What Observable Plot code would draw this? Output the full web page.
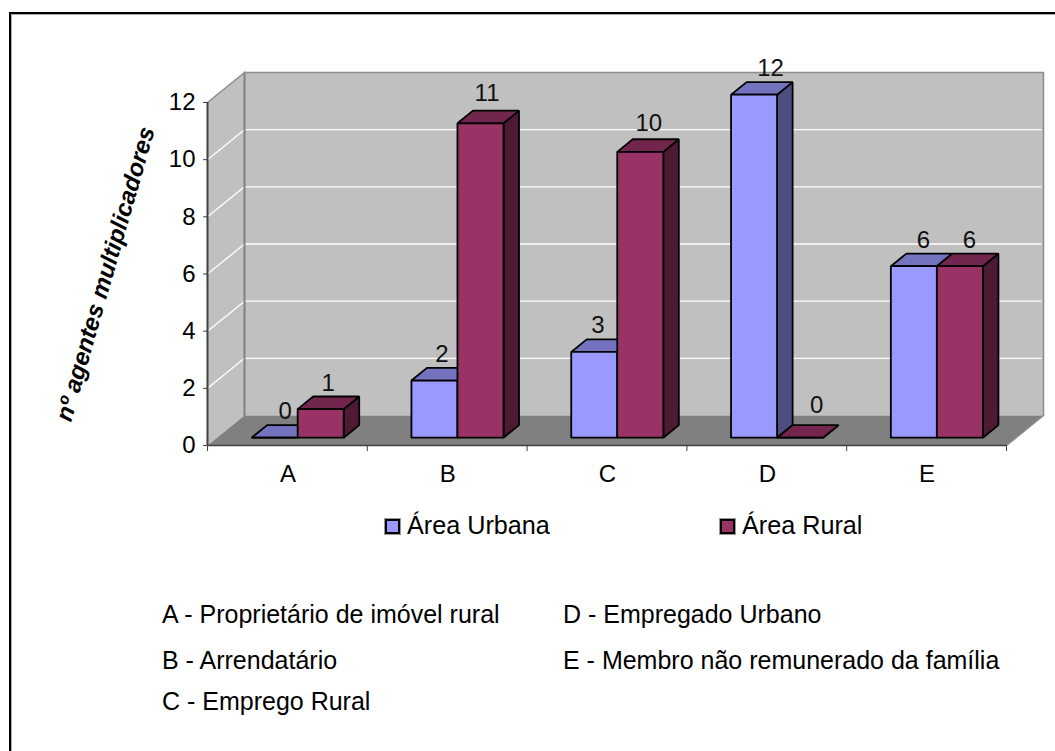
<!DOCTYPE html>
<html lang="pt">
<head>
<meta charset="utf-8">
<title>Agentes multiplicadores</title>
<script src="https://cdn.jsdelivr.net/npm/d3@7"></script>
<script src="https://cdn.jsdelivr.net/npm/@observablehq/plot@0.6"></script>
<style>
  html, body { margin: 0; padding: 0; background: #fff; width: 1055px; height: 751px; overflow: hidden; }
  body { position: relative; font-family: "Liberation Sans", Arial, sans-serif; color: #000; }
  #frame { position: absolute; left: 9px; top: 12px; right: 0; bottom: 0;
           border-top: 2px solid #000; border-left: 2px solid #000; box-shadow: inset 1px 1px 0 #aaa; }
  #chart { position: absolute; left: 0; top: 0; }
  .legend { position: absolute; top: 509px; font-size: 25.2px; line-height: 32px; white-space: nowrap; }
  .legend i { position: absolute; left: -22px; top: 10px; width: 11px; height: 11px; border: 2px solid #000;
              box-shadow: 0 0 0 1px #999; }
  .note { position: absolute; font-size: 25px; line-height: 30px; white-space: nowrap; }
</style>
</head>
<body>
<div id="frame"></div>
<div id="chart"></div>
<div id="legend"></div>
<div id="notes"></div>
<script>
// ---- data ----
const categories = ["A", "B", "C", "D", "E"];
const urbana = [0, 2, 3, 12, 6];
const rural = [1, 11, 10, 0, 6];
const seriesNames = ["Área Urbana", "Área Rural"];
const notes = [
  "A - Proprietário de imóvel rural",
  "B - Arrendatário",
  "C - Emprego Rural",
  "D - Empregado Urbano",
  "E - Membro não remunerado da família"
];
const yTicks = [0, 2, 4, 6, 8, 10, 12];
const xTicks = [0, 1, 2, 3, 4, 5];
const yTitle = "nº agentes multiplicadores";

// ---- palette ----
const urbanaFaces = {front: "#9999ff", top: "#7373bf", side: "#4d4d80"};
const ruralFaces = {front: "#993366", top: "#73264d", side: "#4d1933"};

// ---- oblique projection, expressed in data units ----
const shearX = 0.2315;   // band units per unit of depth
const shearY = 1.05;     // value units per unit of depth
const barWidth = 0.288;
const barNear = 0.26;
const barFar = 0.68;
const barShift = 0.004;
const P = (x, y, d) => ({x: x + d * shearX, y: y + d * shearY});
const poly = (id, fill, pts) => pts.map((p) => ({...p, id, fill}));

const faces = [];
function addBar(id, left, value, c) {
  const r = left + barWidth;
  faces.push(...poly(id + "s", c.side, [P(r, 0, barNear), P(r, 0, barFar), P(r, value, barFar), P(r, value, barNear)]));
  faces.push(...poly(id + "t", c.top, [P(left, value, barNear), P(r, value, barNear), P(r, value, barFar), P(left, value, barFar)]));
  faces.push(...poly(id + "f", c.front, [P(left, 0, barNear), P(r, 0, barNear), P(r, value, barNear), P(left, value, barNear)]));
}
// value-label placement nudges (band units / value units)
const urbanaNudge = [-0.031, -0.05, -0.075, 0.006, -0.038];
const ruralNudge = [-0.05, -0.056, -0.044, 0.006, -0.038];
const ruralLift = [0, 0.14, 0.07, 0.2, 0];
const labels = [];
categories.forEach((cat, i) => {
  const mid = i + 0.5 + barShift;
  addBar("u" + i, mid - barWidth, urbana[i], urbanaFaces);
  addBar("r" + i, mid, rural[i], ruralFaces);
  labels.push({...P(mid - barWidth / 2 + urbanaNudge[i], urbana[i], barFar), v: urbana[i]});
  labels.push({...P(mid + barWidth / 2 + ruralNudge[i], rural[i] + ruralLift[i], barFar), v: rural[i]});
});

const wall = poly("wall", "#c0c0c0", [P(0, 0, 1), P(5, 0, 1), P(5, 12, 1), P(0, 12, 1)]);
const leftWall = poly("left", "#c0c0c0", [P(0, 0, 0), P(0, 0, 1), P(0, 12, 1), P(0, 12, 0)]);
const floor = poly("floor", "#808080", [P(0, 0, 0), P(5, 0, 0), P(5, 0, 1), P(0, 0, 1)]);
const gridTicks = yTicks.filter((t) => t > 0 && t < 12);
const grid = gridTicks.flatMap((t) => [
  {...P(0, t, 0), id: t}, {...P(0, t, 1), id: t}, {...P(4.985, t, 1), id: t}
]);
const wallEdge = [P(0, 12, 0), P(0, 12, 1), P(5, 12, 1), P(5, 0, 1), P(5, 0, 0)];
const wallInner = [P(0, 12, 1), P(0, 0, 1)];

const face = {x: "x", y: "y", z: "id", fill: "fill", curve: "linear-closed"};
const plot = Plot.plot({
  width: 1055, height: 490,
  marginLeft: 207, marginRight: 49, marginTop: 102, marginBottom: 45,
  style: {background: "transparent", fontFamily: "'Liberation Sans', Arial, sans-serif", color: "#000", overflow: "visible"},
  x: {type: "linear", domain: [0, 5], axis: null},
  y: {type: "linear", domain: [0, 12], axis: null},
  color: {type: "identity"},
  marks: [
    Plot.line(wall, {...face, stroke: "none"}),
    Plot.line(leftWall, {...face, stroke: "none"}),
    Plot.line(floor, {...face, stroke: "none"}),
    Plot.line(grid, {x: "x", y: "y", z: "id", stroke: "#fff", strokeWidth: 1.3}),
    Plot.line(wallInner, {x: "x", y: "y", stroke: "#808080", strokeWidth: 2}),
    Plot.line(wallEdge, {x: "x", y: "y", stroke: "#8c8c8c", strokeWidth: 1.5}),
    Plot.line(faces, {...face, stroke: "#000", strokeWidth: 1.8, strokeLinejoin: "miter"}),
    Plot.text(labels, {x: "x", y: "y", text: (d) => String(d.v), dy: -6, lineAnchor: "bottom", fontSize: 24, fill: "#111"}),
    Plot.ruleX([0], {y1: 0, y2: 12, stroke: "#404040", strokeWidth: 2}),
    Plot.ruleY([0], {x1: 0, x2: 5, stroke: "#404040", strokeWidth: 1.6}),
    Plot.axisY({ticks: yTicks, tickSize: 4, tickPadding: 8, fontSize: 24, label: null, stroke: "#404040", fill: "#000", tickFormat: (d) => String(d)}),
    Plot.axisX({ticks: xTicks, tickSize: 6, tickFormat: () => "", label: null, stroke: "#404040"}),
    Plot.text(categories, {x: (d, i) => i + 0.5, y: 0, text: (d) => d, dx: 0.5, dy: 36, lineAnchor: "bottom", fontSize: 24, fill: "#000"}),
    Plot.text([yTitle], {frameAnchor: "left", textAnchor: "middle", dx: -102, dy: 0, rotate: -74, fontSize: 24, fontWeight: "bold", fontStyle: "italic", fill: "#000"})
  ]
});
document.getElementById("chart").append(plot);

// ---- legend and category notes below the plot ----
const legend = document.getElementById("legend");
[[407, urbanaFaces.front], [742, ruralFaces.front]].forEach(([left, colour], i) => {
  const el = document.createElement("div");
  el.className = "legend";
  el.style.left = left + "px";
  el.innerHTML = "<i></i>" + seriesNames[i];
  el.firstChild.style.background = colour;
  legend.append(el);
});
const notesEl = document.getElementById("notes");
[[162, 599], [162, 645], [162, 686], [563, 599], [563, 645]].forEach(([left, top], i) => {
  const el = document.createElement("div");
  el.className = "note";
  el.style.left = left + "px";
  el.style.top = top + "px";
  el.textContent = notes[i];
  notesEl.append(el);
});
</script>
</body>
</html>
